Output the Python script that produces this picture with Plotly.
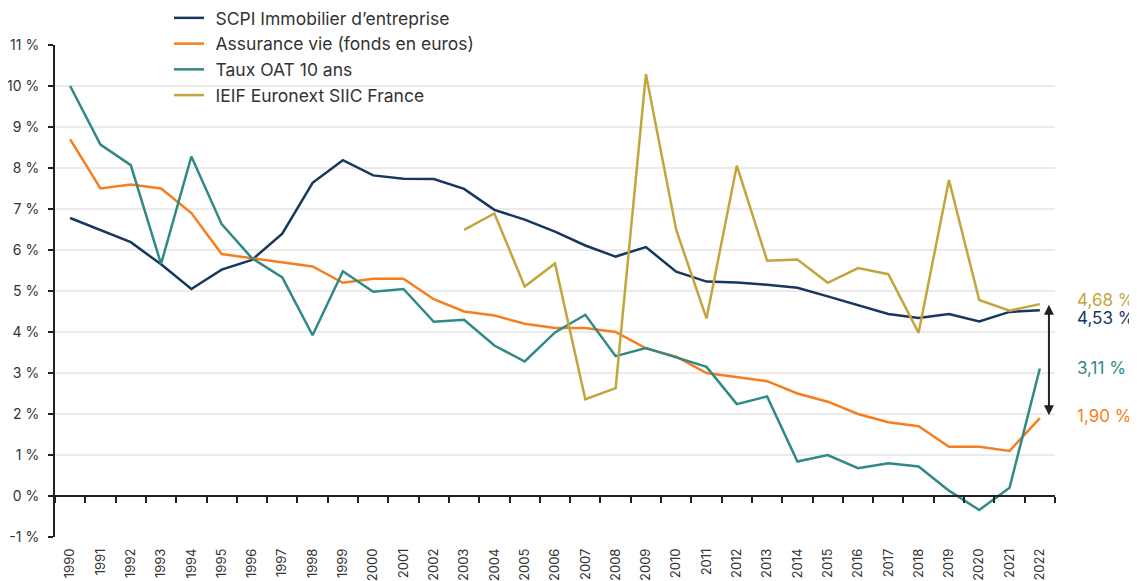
import plotly.graph_objects as go

years = ["1990", "1991", "1992", "1993", "1994", "1995", "1996", "1997", "1998", "1999",
         "2000", "2001", "2002", "2003", "2004", "2005", "2006", "2007", "2008", "2009",
         "2010", "2011", "2012", "2013", "2014", "2015", "2016", "2017", "2018", "2019",
         "2020", "2021", "2022"]

scpi = [6.78, 6.49, 6.19, 5.65, 5.05, 5.52, 5.76, 6.40, 7.64, 8.19,
        7.82, 7.74, 7.73, 7.49, 6.98, 6.74, 6.45, 6.11, 5.84, 6.07,
        5.47, 5.23, 5.21, 5.15, 5.08, 4.87, 4.65, 4.44, 4.34, 4.44,
        4.26, 4.49, 4.53]

assurance = [8.70, 7.50, 7.60, 7.50, 6.90, 5.90, 5.80, 5.70, 5.60, 5.20,
             5.30, 5.30, 4.80, 4.50, 4.40, 4.20, 4.10, 4.10, 4.00, 3.60,
             3.40, 3.00, 2.90, 2.80, 2.50, 2.30, 2.00, 1.80, 1.70, 1.20,
             1.20, 1.10, 1.90]

oat = [10.00, 8.57, 8.07, 5.66, 8.28, 6.63, 5.80, 5.33, 3.92, 5.48,
       4.98, 5.05, 4.25, 4.30, 3.67, 3.28, 3.99, 4.42, 3.41, 3.61,
       3.38, 3.15, 2.24, 2.43, 0.84, 1.00, 0.68, 0.80, 0.72, 0.13,
       -0.34, 0.20, 3.11]

ieif = [None, None, None, None, None, None, None, None, None, None,
        None, None, None, 6.49, 6.89, 5.11, 5.67, 2.36, 2.63, 10.29,
        6.49, 4.33, 8.06, 5.74, 5.77, 5.20, 5.56, 5.41, 3.98, 7.71,
        4.78, 4.52, 4.68]

series_names = ["SCPI Immobilier d’entreprise", "Assurance vie (fonds en euros)",
                "Taux OAT 10 ans", "IEIF Euronext SIIC France"]
series_values = [scpi, assurance, oat, ieif]
colors = ["#17375e", "#f57f20", "#2f8985", "#c2a63d"]

end_labels = ["4,53 %", "1,90 %", "3,11 %", "4,68 %"]
end_shifts = [-8, 2, 0, 4]

y_ticks = [-1, 0, 1, 2, 3, 4, 5, 6, 7, 8, 9, 10, 11]
y_ticktext = ["-1 %", "0 %", "1 %", "2 %", "3 %", "4 %", "5 %", "6 %", "7 %", "8 %", "9 %", "10 %", "11 %"]

arrow_top = 4.70
arrow_bottom = 1.97

FONT = "Inter, Roboto, 'DejaVu Sans', sans-serif"
PAD = "\u00a0\u200a"

fig = go.Figure()
for name, vals, col in zip(series_names, series_values, colors):
    fig.add_trace(go.Scatter(x=years, y=vals, name=PAD + name, mode="lines",
                             line=dict(color=col, width=2.5), connectgaps=False))

# invisible trace to anchor the zero-line axis with boundary ticks
fig.add_trace(go.Scatter(x=years, y=scpi, xaxis="x2", mode="lines",
                         line=dict(width=0), opacity=0, showlegend=False,
                         hoverinfo="skip"))

for name, vals, col, lab, sh in zip(series_names, series_values, colors, end_labels, end_shifts):
    fig.add_annotation(x=1.02, xref="paper", y=vals[-1], yref="y", yshift=sh,
                       text=lab, showarrow=False, xanchor="left", yanchor="middle",
                       font=dict(family=FONT, size=17, color=col))

fig.add_annotation(x=32.3, y=arrow_bottom, ax=32.3, ay=arrow_top,
                   xref="x", yref="y", axref="x", ayref="y", text="",
                   showarrow=True, arrowhead=2, arrowside="end+start",
                   arrowwidth=2, arrowsize=1, arrowcolor="#222222")

# page body has an 8px margin: size/margins compensate so the plot lands where the reference is
fig.update_layout(
    width=1129, height=573,
    margin=dict(l=47, r=82, t=37, b=44, autoexpand=False),
    paper_bgcolor="white", plot_bgcolor="white",
    font=dict(family=FONT, color="#333333"),
    showlegend=True,
    legend=dict(x=0.114, y=1.0915, xanchor="left", yanchor="top",
                bgcolor="rgba(0,0,0,0)", font=dict(family=FONT, size=17.5),
                traceorder="normal", itemwidth=30),
    xaxis=dict(type="category", categoryorder="array", categoryarray=years,
               range=[-0.5, 32.5], showgrid=False, zeroline=False, showline=False,
               ticks="", tickangle=-90, ticklabelstandoff=8,
               tickfont=dict(size=13, color="#333333")),
    xaxis2=dict(type="category", categoryorder="array", categoryarray=years,
                overlaying="x", anchor="free", position=1/12, side="bottom",
                range=[-0.5, 32.5], showgrid=False, zeroline=False,
                showline=True, linecolor="#222222", linewidth=2,
                ticks="outside", tickson="boundaries", ticklen=6, tickwidth=2,
                tickcolor="#222222", showticklabels=False),
    yaxis=dict(range=[-1, 11], tickvals=y_ticks, ticktext=y_ticktext,
               showgrid=True, gridcolor="#ebebeb", gridwidth=2, zeroline=False,
               showline=True, linecolor="#222222", linewidth=2,
               ticks="outside", ticklen=5, tickwidth=2, tickcolor="#222222",
               ticklabelstandoff=6,
               tickfont=dict(size=14, color="#333333")),
)

fig.write_html("out.html")
